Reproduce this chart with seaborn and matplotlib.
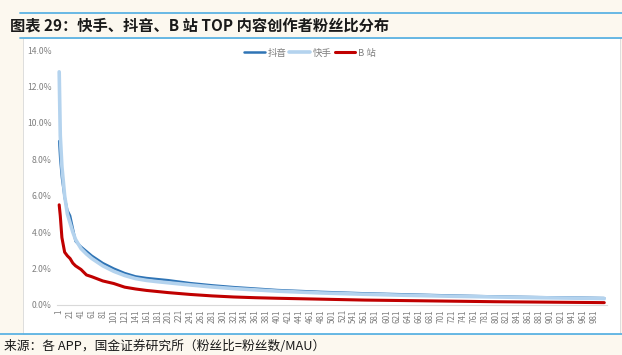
import pandas as pd
import matplotlib
matplotlib.use("Agg")
import matplotlib.pyplot as plt
import seaborn as sns
from matplotlib.patches import Rectangle
from matplotlib.lines import Line2D
from matplotlib.ticker import FuncFormatter

# === 数据：排名与粉丝比(%) ===
ranks = [1, 3, 6, 11, 16, 21, 26, 31, 41, 51, 61, 81, 101, 121, 141, 161, 181, 201,
         241, 281, 321, 361, 401, 481, 561, 641, 721, 801, 881, 961, 1000]
douyin = [9.0, 8.0, 7.0, 5.9, 5.2, 4.9, 4.2, 3.5, 3.2, 2.95, 2.7, 2.3, 2.0, 1.75, 1.57,
          1.48, 1.42, 1.36, 1.2, 1.08, 0.98, 0.9, 0.82, 0.72, 0.64, 0.58, 0.52, 0.47,
          0.43, 0.4, 0.38]
kuaishou = [12.8, 9.3, 7.6, 6.0, 5.0, 4.5, 4.0, 3.6, 3.1, 2.8, 2.55, 2.15, 1.85, 1.62,
            1.45, 1.35, 1.28, 1.22, 1.1, 0.99, 0.9, 0.83, 0.76, 0.66, 0.59, 0.53, 0.48,
            0.44, 0.4, 0.37, 0.35]
bilibili = [5.5, 4.9, 3.7, 2.9, 2.7, 2.55, 2.3, 2.15, 1.95, 1.65, 1.55, 1.32, 1.18,
            0.98, 0.88, 0.8, 0.74, 0.68, 0.58, 0.5, 0.44, 0.4, 0.37, 0.32, 0.27, 0.24,
            0.21, 0.18, 0.16, 0.14, 0.13]
tick_ranks = list(range(1, 1000, 20))

series = ["抖音", "快手", "B 站"]
colors = ["#2f74b5", "#b4d3ee", "#c00000"]
widths = [1.8, 2.6, 2.2]

df = pd.DataFrame({"rank": ranks, "抖音": douyin, "快手": kuaishou, "B 站": bilibili})

sns.set_style("white")
plt.rcParams["font.family"] = ["Noto Sans CJK SC", "DejaVu Sans"]

bg = "#fcf8ef"
fig = plt.figure(figsize=(6.22, 3.55), dpi=100, facecolor=bg)

# 白色图表区域与标题线
fig.patches.append(Rectangle((23 / 622, 1 - 334 / 355), 597 / 622, 296 / 355,
                             transform=fig.transFigure, facecolor="white",
                             edgecolor="#d9d9d9", linewidth=0.6, zorder=0))
for y in [13, 38, 334]:
    fig.add_artist(Line2D([20 / 622 if y != 334 else 0, 1], [1 - y / 355] * 2,
                          transform=fig.transFigure, color="#5cb3e3", linewidth=1.3))

fig.text(10 / 622, 1 - 25 / 355, "图表 29：快手、抖音、B 站 TOP 内容创作者粉丝比分布",
         fontsize=11, fontweight="bold", style="italic", color="#1a1a1a", va="center")
fig.text(4 / 622, 1 - 346 / 355, "来源：各 APP，国金证券研究所（粉丝比=粉丝数/MAU）",
         fontsize=9.2, color="#1a1a1a", va="center")

ax = fig.add_axes([57 / 622, 1 - 305 / 355, 550 / 622, 255 / 355])
ax.set_zorder(3)
ax.set_facecolor("none")

for name, c, w in zip(series, colors, widths):
    sns.lineplot(data=df, x="rank", y=name, ax=ax, color=c, linewidth=w, label=name)

ax.set_xlim(-3, 1005)
ax.set_ylim(0, 14)
ax.set_yticks([0, 2, 4, 6, 8, 10, 12, 14])
ax.yaxis.set_major_formatter(FuncFormatter(lambda v, p: f"{v:.1f}%"))
ax.set_xticks(tick_ranks)
ax.set_xticklabels([str(t) for t in tick_ranks], rotation=90)
ax.tick_params(axis="y", labelsize=6.2, colors="#7f7f7f", length=0, pad=4)
ax.tick_params(axis="x", labelsize=5.8, colors="#7f7f7f", length=0, pad=3)
ax.set_xlabel("")
ax.set_ylabel("")
for s in ["top", "right", "left"]:
    ax.spines[s].set_visible(False)
ax.spines["bottom"].set_color("#d9d9d9")
ax.spines["bottom"].set_linewidth(0.8)

ax.legend(loc="center", bbox_to_anchor=(0.46, 0.988), ncol=3, frameon=False,
          fontsize=6.8, labelcolor="#7f7f7f", handlelength=2.2, columnspacing=0.3,
          handletextpad=0.3)

fig.savefig("out.png", dpi=100, facecolor=bg)
